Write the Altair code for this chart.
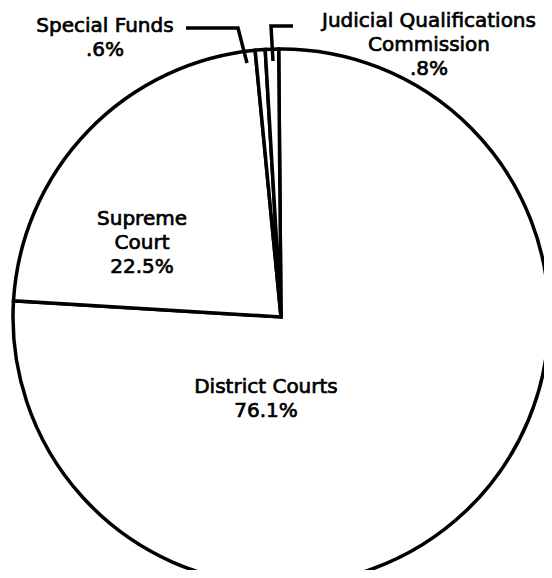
import math
import altair as alt
import pandas as pd

# ---- data ----
categories = ["District Courts", "Supreme Court", "Special Funds",
              "Judicial Qualifications Commission"]
percents = [76.1, 22.5, 0.6, 0.8]
label_lines = [["District Courts"], ["Supreme", "Court"], ["Special Funds"],
               ["Judicial Qualifications", "Commission"]]

# ---- layout (pixels inside the chart) ----
CX, CY, R = 273, 309, 268
START = math.radians(-0.5)
LINE_H = 24
label_pos = {
    "District Courts": (258, 385),
    "Supreme Court": (134, 217),
    "Special Funds": (97, 24),
    "Judicial Qualifications Commission": (421, 19),
}
leaders = {
    "Special Funds": [(178, 20), (230, 20), (239, 55)],
    "Judicial Qualifications Commission": [(285, 18), (263, 18), (265, 53)],
}


def fmt(v):
    s = f"{v:.1f}%"
    return s[1:] if s.startswith("0") else s


pie_df = pd.DataFrame({"category": categories, "value": percents,
                       "order": list(range(len(categories)))})

rows = []
for cat, val, lines in zip(categories, percents, label_lines):
    x0, y0 = label_pos[cat]
    for i, t in enumerate(lines + [fmt(val)]):
        rows.append({"text": t, "x": x0, "y": y0 + i * LINE_H})
text_df = pd.DataFrame(rows)

lrows = []
for cat, pts in leaders.items():
    for i, (x, y) in enumerate(pts):
        lrows.append({"id": cat, "idx": i, "x": x, "y": y})
lead_df = pd.DataFrame(lrows)

pie = alt.Chart(pie_df).mark_arc(
    fill="white", stroke="black", strokeWidth=3.5
).encode(
    theta=alt.Theta("value:Q", stack=True,
                    scale=alt.Scale(range=[START, START + 2 * math.pi])),
    order=alt.Order("order:Q"),
    x=alt.value(CX), y=alt.value(CY), radius=alt.value(R),
)

txt = alt.Chart(text_df).mark_text(
    font="DejaVu Sans", fontSize=20, align="center", baseline="alphabetic",
    color="black", stroke="black", strokeWidth=0.7
).encode(
    x=alt.X("x:Q", scale=None, axis=None),
    y=alt.Y("y:Q", scale=None, axis=None),
    text="text:N",
)

lead = alt.Chart(lead_df).mark_line(color="black", strokeWidth=3.5).encode(
    x=alt.X("x:Q", scale=None, axis=None),
    y=alt.Y("y:Q", scale=None, axis=None),
    detail="id:N",
    order="idx:Q",
)

chart = alt.layer(pie, lead, txt).properties(
    width=536, height=562, padding=0, autosize="none"
).configure_view(stroke=None)

chart.save("out.html", embed_options={"renderer": "svg", "actions": False})
